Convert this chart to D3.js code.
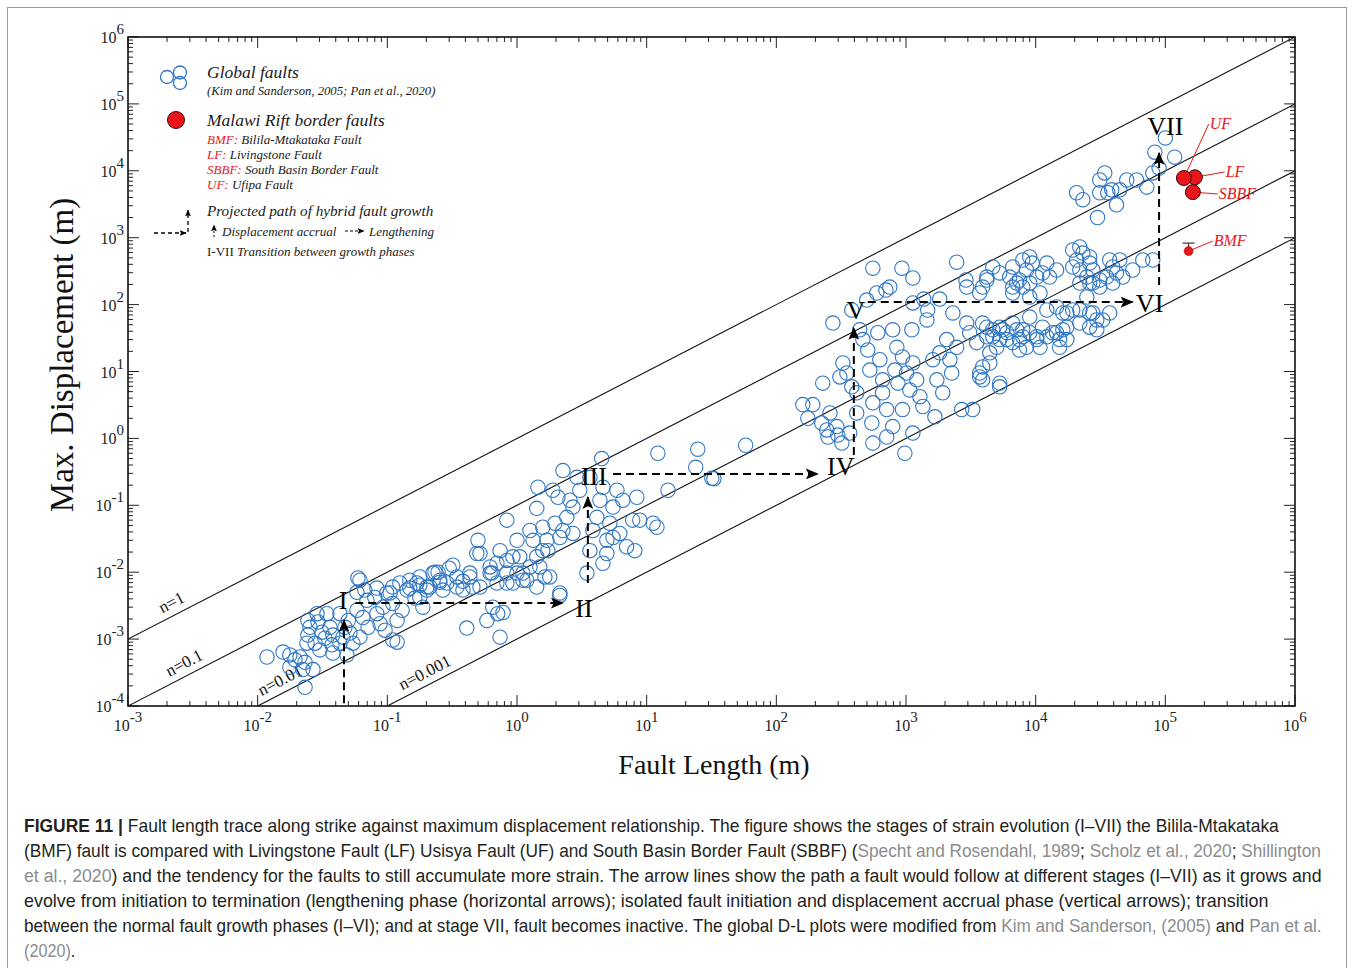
<!DOCTYPE html>
<html><head><meta charset="utf-8">
<script src="https://cdn.jsdelivr.net/npm/d3@7"></script>
<style>body{margin:0;background:#fff;} svg{display:block}</style>
</head><body>
<svg id="c" width="1354" height="968"></svg>
<script>
// ---------------- DATA ----------------
// Global faults [length (m), max displacement (m)]
const globalFaults = [
 [0.0118,5.4e-4],[0.0157,6.4e-4],[0.0177,5.8e-4],[0.0194,4.9e-4],[0.0212,5.4e-4],[0.0232,4.5e-4],[0.0223,3.5e-4],[0.0177,3.8e-4],
 [0.0267,3.5e-4],[0.0232,1.9e-4],[0.0244,1.9e-3],[0.0253,1.5e-3],[0.0244,1.15e-3],[0.024,8.7e-4],[0.0287,2.4e-3],[0.0292,1.8e-3],
 [0.0313,1.27e-3],[0.033,1.03e-3],[0.0342,2.4e-3],[0.0361,1.5e-3],[0.038,1.15e-3],[0.0374,8.2e-4],[0.0302,6.9e-4],[0.0277,8.7e-4],
 [0.0431,8.7e-4],[0.0488,5.8e-4],[0.0431,2.4e-3],[0.0471,1.5e-3],[0.0515,1.23e-3],[0.05,1.9e-3],[0.0543,8.7e-4],[0.0583,5.0e-3],
 [0.0615,7.6e-3],[0.0583,2.7e-3],[0.0648,2.1e-3],[0.0696,3.8e-3],[0.071,1.5e-3],[0.080,4.2e-3],[0.083,2.4e-3],[0.088,1.7e-3],
 [0.0925,3.0e-3],[0.096,1.36e-3],[0.105,4.9e-3],[0.11,3.4e-3],[0.119,1.9e-3],[0.13,2.7e-3],[0.142,5.4e-3],[0.149,7.6e-3],
 [0.169,6.9e-3],[0.178,4.2e-3],[0.188,3.0e-3],[0.202,6.0e-3],[0.225,9.7e-3],[0.254,7.6e-3],[0.268,5.4e-3],[0.119,9.0e-4],
 [0.0615,1.07e-3],[0.0455,1.07e-3],[0.038,6.2e-4],[0.0593,8.2e-3],[0.067,5.4e-3],[0.083,5.8e-3],[0.099,4.9e-3],[0.11,6.0e-3],
 [0.125,6.9e-3],[0.149,5.8e-3],[0.178,6.4e-3],[0.213,6.0e-3],[0.246,1.0e-2],[0.288,6.9e-3],[0.32,1.27e-2],[0.344,8.5e-3],
 [0.383,5.4e-3],[0.433,9.7e-3],[0.49,1.9e-2],[0.518,6.0e-3],[0.62,9.7e-3],[0.70,1.36e-2],[0.74,2.1e-2],[0.835,6.9e-3],
 [0.93,1.7e-2],[1.0,9.7e-3],[1.11,7.6e-3],[1.26,1.2e-2],[1.42,6.0e-3],[1.58,2.1e-2],[1.79,8.5e-3],[2.14,4.5e-3],
 [0.41,1.46e-3],[0.586,1.9e-3],[0.74,1.07e-3],[0.78,2.5e-3],[0.65,3.0e-3],[0.11,9.7e-4],[0.202,5.4e-3],[0.163,4.1e-3],
 [0.178,8.5e-3],[0.233,1.0e-2],[0.254,7.1e-3],[0.30,1.15e-2],[0.344,6.0e-3],[0.383,7.3e-3],[0.433,8.5e-3],[0.457,6.0e-3],
 [0.50,3.0e-2],[0.518,1.9e-2],[0.62,1.2e-2],[0.64,9.7e-3],[0.70,6.9e-3],[0.835,1.5e-2],[0.835,9.7e-3],[0.93,6.9e-3],
 [1.0,3.0e-2],[1.05,1.7e-2],[1.11,9.7e-3],[1.19,7.6e-3],[1.26,4.2e-2],[1.33,3.0e-2],[1.42,1.7e-2],[1.5,1.2e-2],
 [1.64,8.5e-3],[0.835,6.0e-2],[1.42,9.0e-2],[1.45,0.186],[1.58,4.7e-2],[1.7,3.0e-2],[1.73,2.1e-2],[1.89,0.168],
 [1.96,5.4e-2],[2.07,0.132],[2.14,3.3e-2],[2.26,4.2e-2],[2.42,6.6e-2],[2.56,0.119],[2.7,9.4e-2],[2.7,3.8e-2],
 [2.9,0.262],[3.05,0.168],[2.14,4.9e-3],[3.46,9.7e-3],[0.71,2.4e-3],[3.65,2.1e-2],[3.85,4.2e-2],[4.13,6.6e-2],
 [4.36,0.119],[4.6,0.186],[4.93,3.0e-2],[5.2,5.4e-2],[5.5,9.4e-2],[5.9,0.168],[6.2,3.8e-2],[6.55,0.119],
 [7.0,2.4e-2],[7.8,6.0e-2],[8.1,2.1e-2],[8.4,0.132],[8.85,6.0e-2],[11.2,5.4e-2],[12,4.7e-2],[4.5,0.5],
 [12.2,0.6],[14.6,0.168],[4.6,1.36e-2],[4.93,1.9e-2],[5.5,3.3e-2],[24.8,0.69],[31.8,0.254],[23.9,0.37],
 [58,0.79],[33,0.25],[3.65,0.262],[2.26,0.33],
 [160,3.2],[191,3.2],[175,2.0],[228,6.7],[224,1.7],[245,1.34],[259,2.4],[250,1.05],
 [293,1.5],[298,1.12],[320,0.85],[368,1.2],[273,53],[326,13.4],[350,9.5],[309,8.3],
 [382,83],[382,5.9],[417,2.4],[417,4.8],[440,42],[465,30],[498,117],[507,21],
 [526,10.5],[545,1.7],[555,3.4],[595,149],[606,38],[628,15],[660,7.5],[660,4.8],
 [710,2.7],[710,1.05],[555,0.85],[750,183],[790,42],[820,10.5],[850,23],[867,6.7],
 [790,1.5],[940,2.7],[940,16.5],[1010,9.5],[1070,5.3],[980,0.6],[1130,1.2],[1110,42],
 [1130,106],[1130,13.4],[1210,7.5],[1280,4.2],[1350,3.0],[1450,59],[1470,83],[1610,15],
 [1730,7.5],[1670,2.1],[1820,19],[1920,4.8],[2060,30],[2180,15],[2250,9.5],[2300,75],
 [2460,23],[2690,2.7],[2940,53],[3100,38],[3270,2.7],[3510,27],[3700,9.5],[3900,7.5],
 [4200,46],[4430,13.4],[4670,33],[5000,23],[5280,5.9],[5570,42],[6000,30],[6650,53],
 [7500,30],[7950,42],[8500,23],[9000,65],[1.02e4,33],[1.08e4,23],[1.13e4,46],[1.22e4,83],
 [1.35e4,38],[1.53e4,30],[1.62e4,75],[1.74e4,46],[1.93e4,83],[2.19e4,53],[2.48e4,130],[2.76e4,75],
 [2.96e4,42],[3.29e4,59],[3.72e4,75],[3700,149],[4200,233],[6650,183],[7500,233],[2.61e4,210],
 [3.12e4,183],[3.93e4,210],[2940,183],
 [2.07e4,4.7e3],[2.31e4,3.7e3],[3.12e4,7.3e3],[3.41e4,9.3e3],[3.12e4,4.7e3],[3.6e4,4.7e3],[3.86e4,5.2e3],[4.2e4,3.1e3],
 [4.45e4,5.2e3],[5.04e4,7.3e3],[6.0e4,7.3e3],[7.2e4,5.7e3],[8.0e4,9.3e3],[8.3e4,1.9e4],[3.0e4,2.0e3],
 [2.19e4,727],[2.31e4,590],[2.61e4,515],[2.07e4,464],[1.93e4,365],[2.19e4,329],[2.61e4,418],[2.76e4,329],
 [7950,464],[9000,515],[9400,418],[8500,329],[1.02e4,258],[1.22e4,418],[1.13e4,297],[1.28e4,258],
 [6650,365],[6300,258],[5280,297],[4670,365],[4200,258],[3900,183],[7150,210],[7950,183],
 [9000,210],[1.45e4,329],[2.19e4,210],[2.48e4,258],[2.76e4,210],[3.12e4,233],[3.72e4,464],[3.93e4,365],
 [4.45e4,464],[4.2e4,297],[4.7e4,258],[5.6e4,329],[6.7e4,464],[8.0e4,464],[3.53e4,258],[1.93e4,655],
 [9000,130],[1.08e4,149],[6650,149],[1.45e4,92],[1.74e4,75],[2.19e4,83],[2.61e4,75],[2.96e4,59],
 [2.61e4,46],[4670,42],[5280,46],[6000,38],[7150,42],[7950,33],[9000,38],[1.02e4,30],
 [1.22e4,33],[1.45e4,38],[1.62e4,42],[1.74e4,30],[1.53e4,23],[6650,27],[5280,30],[4200,33],
 [3900,53],[4430,19],[3900,11.7],[3700,8.3],[5280,6.7],[7500,21],
 [555,350],[930,350],[1130,250],[700,165],[2460,430],[1370,121],[1820,121],[2900,233],
 [1.0e5,3.1e4],[1.18e5,1.6e4],[8.95e4,1.1e4]
];

// Malawi Rift border faults
const faultNames  = ["LF", "UF", "SBBF", "BMF"];
const faultLength = [1.69e5, 1.39e5, 1.63e5, 1.51e5];
const faultDisp   = [8.0e3, 7.8e3, 4.8e3, 630];
const faultRadius = [7.5, 7.5, 7.5, 4.5];
const faultLabelL = [2.92e5, 2.2e5, 2.58e5, 2.36e5];
const faultLabelD = [8.1e3, 4.2e4, 3.79e3, 750];
const bmfErrorHigh = 830;

// Reference lines D = n * L
const nValues = [1, 0.1, 0.01, 0.001];
const nLabels = ["n=1", "n=0.1", "n=0.01", "n=0.001"];
const nLabelL = [2.4e-3, 3.0e-3, 1.65e-2, 0.215];

// Growth-path arrows
const arrowStart = [[0.0463,1.1e-4],[0.0566,3.46e-3],[3.52,6.9e-3],[5.5,0.294],[396,0.565],[507,109],[8.95e4,196]];
const arrowEnd   = [[0.0463,1.93e-3],[2.26,3.46e-3],[3.52,0.133],[209,0.294],[396,45],[5.6e4,109],[8.95e4,1.85e4]];
const stageNames = ["I","II","III","IV","V","VI","VII"];
const stageL = [0.0455, 3.28, 3.92, 314, 410, 7.56e4, 1.0e5];
const stageD = [3.84e-3, 2.92e-3, 0.274, 0.387, 83, 106, 4.7e4];

// Tick label exponents
const xTickExp = [-3,-2,-1,0,1,2,3,4,5,6];
const yTickExp = [-4,-3,-2,-1,0,1,2,3,4,5,6];

// ---------------- DRAW ----------------
const svg = d3.select("#c");
const serif = "'Liberation Serif','DejaVu Serif',serif";
const L = 128, R = 1295, T = 37, B = 706;
const x = d3.scaleLog().domain([1e-3, 1e6]).range([L, R]);
const y = d3.scaleLog().domain([1e-4, 1e6]).range([B, T]);

// outer figure frame
svg.append("rect").attr("x", 7.5).attr("y", 7.5).attr("width", 1339).attr("height", 980)
  .attr("fill", "none").attr("stroke", "#9a9a9a").attr("stroke-width", 1);

const defs = svg.append("defs");
defs.append("clipPath").attr("id", "clip").append("rect")
  .attr("x", L).attr("y", T).attr("width", R - L).attr("height", B - T);
defs.append("marker").attr("id", "ah").attr("viewBox", "0 0 12 10")
  .attr("refX", 11).attr("refY", 5).attr("markerWidth", 13).attr("markerHeight", 11)
  .attr("markerUnits", "userSpaceOnUse").attr("orient", "auto")
  .append("path").attr("d", "M0,0 L12,5 L0,10 L2.5,5 Z").attr("fill", "#000");
defs.append("marker").attr("id", "ahs").attr("viewBox", "0 0 12 10")
  .attr("refX", 11).attr("refY", 5).attr("markerWidth", 7).attr("markerHeight", 6)
  .attr("markerUnits", "userSpaceOnUse").attr("orient", "auto")
  .append("path").attr("d", "M0,0 L12,5 L0,10 L2.5,5 Z").attr("fill", "#000");

// reference lines
const gLines = svg.append("g").attr("clip-path", "url(#clip)");
nValues.forEach(n => {
  const l0 = Math.max(1e-3, 1e-4 / n);
  gLines.append("line")
    .attr("x1", x(l0)).attr("y1", y(n * l0))
    .attr("x2", x(1e6)).attr("y2", y(n * 1e6))
    .attr("stroke", "#111").attr("stroke-width", 1.1);
});
const ang = Math.atan2(y(10) - y(1), x(10) - x(1)) * 180 / Math.PI;
nValues.forEach((n, i) => {
  const px = x(nLabelL[i]), py = y(n * nLabelL[i]);
  svg.append("text")
    .attr("transform", `translate(${px},${py}) rotate(${ang}) translate(0,-7)`)
    .attr("text-anchor", "middle").attr("font-family", serif).attr("font-size", 17)
    .attr("fill", "#111").text(nLabels[i]);
});

// global fault circles
svg.append("g").attr("clip-path", "url(#clip)").selectAll("circle").data(globalFaults).join("circle")
  .attr("cx", d => x(d[0])).attr("cy", d => y(d[1])).attr("r", 7.2)
  .attr("fill", "none").attr("stroke", "#2e76c4").attr("stroke-width", 1.1);

// axes frame and ticks
const gAx = svg.append("g").attr("stroke", "#222");
const xt = x.ticks(20), yt = y.ticks(20);
const isMajor = v => Math.abs(Math.log10(v) - Math.round(Math.log10(v))) < 1e-9;
xt.forEach(v => {
  const len = isMajor(v) ? 11 : 5, px = x(v);
  gAx.append("line").attr("x1", px).attr("x2", px).attr("y1", B).attr("y2", B - len).attr("stroke-width", 1);
  gAx.append("line").attr("x1", px).attr("x2", px).attr("y1", T).attr("y2", T + len).attr("stroke-width", 1);
});
yt.forEach(v => {
  const len = isMajor(v) ? 11 : 5, py = y(v);
  gAx.append("line").attr("y1", py).attr("y2", py).attr("x1", L).attr("x2", L + len).attr("stroke-width", 1);
  gAx.append("line").attr("y1", py).attr("y2", py).attr("x1", R).attr("x2", R - len).attr("stroke-width", 1);
});
svg.append("rect").attr("x", L).attr("y", T).attr("width", R - L).attr("height", B - T)
  .attr("fill", "none").attr("stroke", "#111").attr("stroke-width", 1.6);

// tick labels
xTickExp.forEach(e => {
  const t = svg.append("text").attr("x", x(Math.pow(10, e))).attr("y", 731)
    .attr("text-anchor", "middle").attr("font-family", serif).attr("font-size", 16).attr("fill", "#222");
  t.append("tspan").text("10");
  t.append("tspan").attr("dy", -9).attr("font-size", 15).text(String(e));
});
yTickExp.forEach(e => {
  const t = svg.append("text").attr("x", 124).attr("y", y(Math.pow(10, e)) + 6)
    .attr("text-anchor", "end").attr("font-family", serif).attr("font-size", 16).attr("fill", "#222");
  t.append("tspan").text("10");
  t.append("tspan").attr("dy", -9).attr("font-size", 15).text(String(e));
});

// axis titles
svg.append("text").attr("x", 714).attr("y", 774).attr("text-anchor", "middle")
  .attr("font-family", serif).attr("font-size", 28).attr("fill", "#111").text("Fault Length (m)");
svg.append("text").attr("transform", "translate(73,355) rotate(-90)").attr("text-anchor", "middle")
  .attr("font-family", serif).attr("font-size", 33).attr("fill", "#111").text("Max. Displacement (m)");

// growth path arrows
arrowStart.forEach((s, i) => {
  const e = arrowEnd[i];
  svg.append("line").attr("x1", x(s[0])).attr("y1", y(s[1])).attr("x2", x(e[0])).attr("y2", y(e[1]))
    .attr("stroke", "#000").attr("stroke-width", 2).attr("stroke-dasharray", "8,5")
    .attr("marker-end", "url(#ah)");
});
stageNames.forEach((s, i) => {
  svg.append("text").attr("x", x(stageL[i])).attr("y", y(stageD[i]) + 9)
    .attr("text-anchor", "middle").attr("font-family", serif).attr("font-size", 26)
    .attr("fill", "#000").text(s);
});

// Malawi faults
const red = "#e8161b";
const ix = faultNames.indexOf("BMF");
svg.append("line").attr("x1", x(faultLength[ix])).attr("x2", x(faultLength[ix]))
  .attr("y1", y(faultDisp[ix])).attr("y2", y(bmfErrorHigh)).attr("stroke", "#333").attr("stroke-width", 1.2);
svg.append("line").attr("x1", x(faultLength[ix]) - 6).attr("x2", x(faultLength[ix]) + 6)
  .attr("y1", y(bmfErrorHigh)).attr("y2", y(bmfErrorHigh)).attr("stroke", "#333").attr("stroke-width", 1.2);
faultNames.forEach((f, i) => {
  const cx = x(faultLength[i]), cy = y(faultDisp[i]);
  const lx = x(faultLabelL[i]), ly = y(faultLabelD[i]);
  svg.append("line").attr("x1", cx).attr("y1", cy).attr("x2", lx - 1).attr("y2", ly - 5)
    .attr("stroke", red).attr("stroke-width", 1);
  svg.append("text").attr("x", lx).attr("y", ly).attr("font-family", serif).attr("font-style", "italic")
    .attr("font-size", 16).attr("fill", red).text(f);
});
faultNames.forEach((f, i) => {
  svg.append("circle").attr("cx", x(faultLength[i])).attr("cy", y(faultDisp[i])).attr("r", faultRadius[i])
    .attr("fill", red).attr("stroke", i === ix ? "#b00" : "#3a0a0a").attr("stroke-width", i === ix ? 0.6 : 1);
});

// legend
const lg = svg.append("g").attr("font-family", serif).attr("fill", "#1a1a1a");
[[167,77],[180,72.5],[180,83]].forEach(c => lg.append("circle").attr("cx", c[0]).attr("cy", c[1]).attr("r", 6.5)
  .attr("fill", "none").attr("stroke", "#2e76c4").attr("stroke-width", 1.3));
lg.append("text").attr("x", 207).attr("y", 78).attr("font-size", 17.5).attr("font-style", "italic").text("Global faults");
lg.append("text").attr("x", 207).attr("y", 95).attr("font-size", 12.7).attr("font-style", "italic")
  .text("(Kim and Sanderson, 2005; Pan et al., 2020)");
lg.append("circle").attr("cx", 176).attr("cy", 120).attr("r", 8.5).attr("fill", red).attr("stroke", "#3a0a0a").attr("stroke-width", 1);
lg.append("text").attr("x", 207).attr("y", 126).attr("font-size", 17.5).attr("font-style", "italic").text("Malawi Rift border faults");
const legFaults = [["BMF:", " Bilila-Mtakataka Fault"], ["LF:", " Livingstone Fault"], ["SBBF:", " South Basin Border Fault"], ["UF:", " Ufipa Fault"]];
legFaults.forEach((r, i) => {
  const t = lg.append("text").attr("x", 207).attr("y", 144 + i * 15).attr("font-size", 13).attr("font-style", "italic");
  t.append("tspan").attr("fill", red).text(r[0]);
  t.append("tspan").attr("fill", "#1a1a1a").text(r[1]);
});
lg.append("line").attr("x1", 154).attr("y1", 233).attr("x2", 186).attr("y2", 233)
  .attr("stroke", "#000").attr("stroke-width", 1.3).attr("stroke-dasharray", "4,3").attr("marker-end", "url(#ahs)");
lg.append("line").attr("x1", 188).attr("y1", 232).attr("x2", 188).attr("y2", 210)
  .attr("stroke", "#000").attr("stroke-width", 1.3).attr("stroke-dasharray", "4,3").attr("marker-end", "url(#ahs)");
lg.append("text").attr("x", 207).attr("y", 216).attr("font-size", 15.2).attr("font-style", "italic").text("Projected path of hybrid fault growth");
lg.append("line").attr("x1", 214).attr("y1", 237).attr("x2", 214).attr("y2", 225)
  .attr("stroke", "#000").attr("stroke-width", 1).attr("stroke-dasharray", "2,2").attr("marker-end", "url(#ahs)");
lg.append("text").attr("x", 222).attr("y", 236).attr("font-size", 13).attr("font-style", "italic").text("Displacement accrual");
lg.append("line").attr("x1", 345).attr("y1", 231).attr("x2", 364).attr("y2", 231)
  .attr("stroke", "#000").attr("stroke-width", 1).attr("stroke-dasharray", "3,2").attr("marker-end", "url(#ahs)");
lg.append("text").attr("x", 369).attr("y", 236).attr("font-size", 13).attr("font-style", "italic").text("Lengthening");
const t7 = lg.append("text").attr("x", 207).attr("y", 256).attr("font-size", 13);
t7.append("tspan").text("I-VII");
t7.append("tspan").attr("x", 237).attr("font-style", "italic").text("Transition between growth phases");

// caption (each line scaled horizontally to the reference width)
const gray = "#8c8c8c", ink = "#231f20";
const capLines = [
  {w: 1256, parts: [["FIGURE 11 |", ink, true], [" Fault length trace along strike against maximum displacement relationship. The figure shows the stages of strain evolution (I–VII) the Bilila-Mtakataka", ink]]},
  {w: 1298, parts: [["(BMF) fault is compared with Livingstone Fault (LF) Usisya Fault (UF) and South Basin Border Fault (SBBF) (", ink], ["Specht and Rosendahl, 1989", gray], ["; ", ink], ["Scholz et al., 2020", gray], ["; ", ink], ["Shillington", gray]]},
  {w: 1298, parts: [["et al., 2020", gray], [") and the tendency for the faults to still accumulate more strain. The arrow lines show the path a fault would follow at different stages (I–VII) as it grows and", ink]]},
  {w: 1246, parts: [["evolve from initiation to termination (lengthening phase (horizontal arrows); isolated fault initiation and displacement accrual phase (vertical arrows); transition", ink]]},
  {w: 1298, parts: [["between the normal fault growth phases (I–VI); and at stage VII, fault becomes inactive. The global D-L plots were modified from ", ink], ["Kim and Sanderson, (2005)", gray], [" and ", ink], ["Pan et al.", gray]]},
  {w: null, parts: [["(2020)", gray], [".", ink]]}
];
capLines.forEach((ln, i) => {
  const t = svg.append("text").attr("x", 0).attr("y", 0)
    .attr("font-family", "'Liberation Sans','Helvetica',Arial,sans-serif").attr("font-size", 18)
    .style("white-space", "pre");
  ln.parts.forEach(p => {
    const s = t.append("tspan").attr("fill", p[1]).text(p[0]);
    if (p[2]) s.attr("font-weight", "bold");
  });
  let sx = 0.9;
  if (ln.w) {
    const nat = t.node().getComputedTextLength();
    if (nat > 0) sx = ln.w / nat;
  }
  t.attr("transform", `translate(24,${832 + i * 25}) scale(${sx},1)`);
});
</script>
</body></html>
